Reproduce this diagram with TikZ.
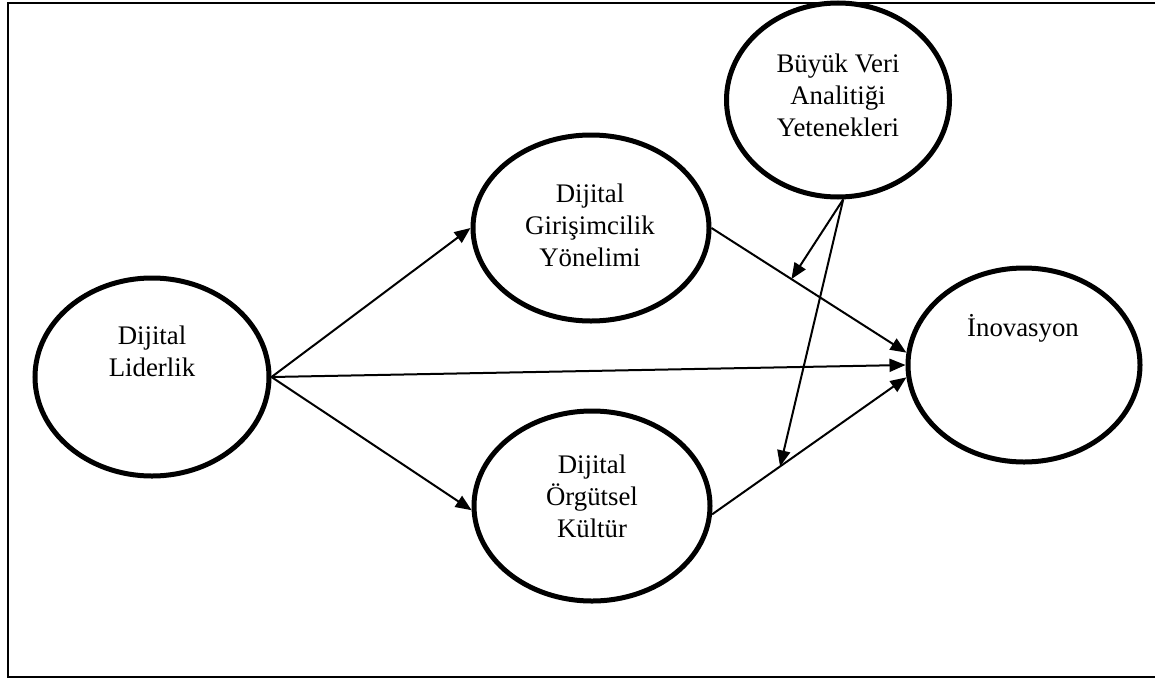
\documentclass[tikz,border=0pt]{standalone}
\usepackage{fontspec}
\setmainfont{Liberation Serif}
\usetikzlibrary{shapes.geometric,arrows.meta}
\tikzset{
  oval/.style={ellipse, draw, line width=2.5pt, inner sep=0pt},
  lbl/.style={align=center, inner sep=0pt, font=\fontsize{13.4}{16}\selectfont},
  arr/.style={line width=1pt, -{Triangle[length=8pt,width=6.5pt]}},
}
\begin{document}
\begin{tikzpicture}[x=0.5pt,y=-0.5pt]
\useasboundingbox (0,0) rectangle (1155,680);
\draw[line width=1.1pt] (1160,3) -- (8,3) -- (8,677) -- (1160,677);
% ellipses (sizes in pt = px/2)
\node[oval, minimum width=117pt, minimum height=99pt] (dl) at (152,377) {};
\node[oval, minimum width=118pt, minimum height=93pt] (dgy) at (591,228) {};
\node[oval, minimum width=118pt, minimum height=95pt] (dok) at (592,506) {};
\node[oval, minimum width=111.5pt, minimum height=97pt] (bva) at (838,100) {};
\node[oval, minimum width=116pt, minimum height=97pt] (ino) at (1024,365) {};
% labels
\node[lbl] (tdl) at (152,351) {Dijital\\Liderlik};
\node[lbl] (tdgy) at (590,225) {Dijital\\Girişimcilik\\Yönelimi};
\node[lbl] (tdok) at (592,496) {Dijital\\Örgütsel\\Kültür};
\node[lbl] (tbva) at (838,95) {Büyük Veri\\Analitiği\\Yetenekleri};
\node[lbl] (tino) at (1023,328) {İnovasyon};
% connectors
\draw[arr] (dl.east) -- (dgy.west);
\draw[arr] (dl.east) -- (dok.182);
\draw[arr] (dl.east) -- (ino.180);
\draw[arr] (dgy.east) -- (ino.174) coordinate[pos=0.41] (m1);
\draw[arr] (dok.356) -- (ino.186) coordinate[pos=0.35] (m2);
\draw[arr] (bva.273) -- (m1);
\draw[arr] (bva.273) -- (m2);
\end{tikzpicture}
\end{document}
